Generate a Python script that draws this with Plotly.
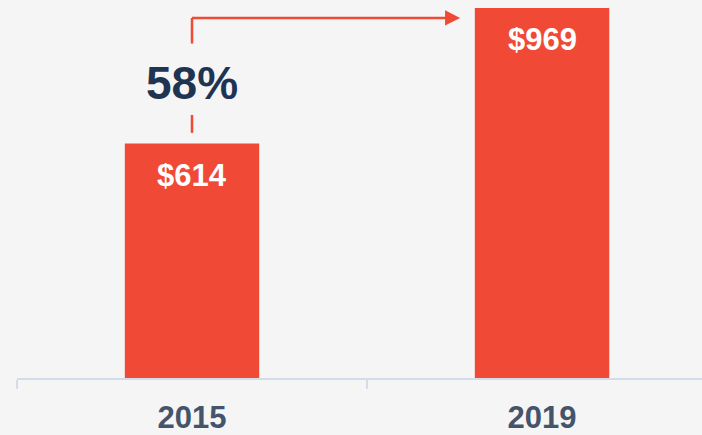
import plotly.graph_objects as go

categories = ["2015", "2019"]
values = [614, 969]
value_labels = ["$614", "$969"]

RED = "#F04A36"
NAVY = "#1F3452"
TICK = "#44546A"
AXIS = "#D3DCE8"
BG = "#F5F5F5"

growth = round((values[1] / values[0] - 1) * 100)

fig = go.Figure()
fig.add_trace(go.Bar(
    x=categories, y=values, marker=dict(color=RED, line=dict(width=0)),
    width=0.384, hoverinfo="skip",
))

# value labels inside bar tops
for i, (v, t) in enumerate(zip(values, value_labels)):
    fig.add_annotation(x=i, y=v, text=t, showarrow=False, yanchor="top", yshift=-12,
                       xref="x", yref="y",
                       font=dict(family="Liberation Sans, Arial", size=31, color="white", weight="bold"))

# growth connector
y_top = 943
x0 = 0
x_tip = 0.766
lw = 2.5
fig.add_shape(type="line", x0=x0, x1=x0, y0=values[0] + 28, y1=values[0] + 75,
              line=dict(color=RED, width=lw), xref="x", yref="y")
fig.add_shape(type="line", x0=x0, x1=x0, y0=876, y1=y_top,
              line=dict(color=RED, width=lw), xref="x", yref="y")
fig.add_shape(type="line", x0=x0, x1=x_tip - 0.03, y0=y_top, y1=y_top,
              line=dict(color=RED, width=lw), xref="x", yref="y")
fig.add_shape(type="path",
              path=f"M {x_tip - 0.043} {y_top + 20} L {x_tip} {y_top} L {x_tip - 0.043} {y_top - 20} Z",
              fillcolor=RED, line=dict(color=RED, width=0), xref="x", yref="y")
fig.add_annotation(x=x0, y=(876 + values[0] + 75) / 2, text=f"{growth}%", showarrow=False,
                   xref="x", yref="y", yshift=-4,
                   font=dict(family="Liberation Sans, Arial", size=46, color=NAVY, weight="bold"))

fig.update_layout(
    width=702, height=435,
    margin=dict(l=17, r=0, t=0, b=52),
    paper_bgcolor=BG, plot_bgcolor=BG,
    showlegend=False,
    xaxis=dict(type="category", range=[-0.5, 1.457], showline=True, linecolor=AXIS, linewidth=2,
               ticks="outside", tickson="boundaries", ticklen=9, tickcolor=AXIS, tickwidth=2,
               showgrid=False, zeroline=False, ticklabelstandoff=11,
               tickfont=dict(family="Liberation Sans, Arial", size=31, color=TICK, weight="bold")),
    yaxis=dict(range=[0, 990], visible=False, showgrid=False, zeroline=False),
)

fig.write_html("out.html", config={"displayModeBar": False},
               post_script="document.body.style.margin='0';")
